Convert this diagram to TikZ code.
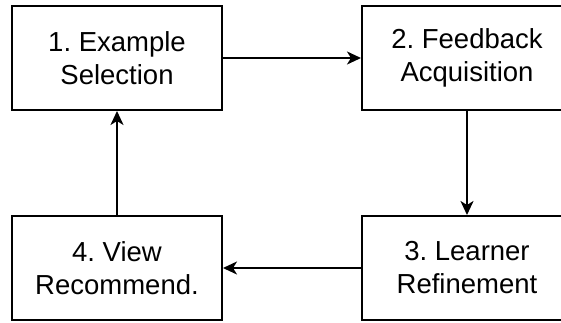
\documentclass[tikz,border=0pt]{standalone}
\usepackage{fontspec}
\setmainfont{Liberation Sans}
\usetikzlibrary{arrows.meta}
\frenchspacing
\begin{document}
\begin{tikzpicture}[x=1pt,y=1pt,
  stagebox/.style={draw=black, line width=2pt, minimum width=210pt, minimum height=104pt,
    align=center, font=\fontsize{27.5}{33}\selectfont, inner sep=0pt, fill=white},
  flow/.style={line width=2pt, -{Stealth[length=14pt,width=13pt,inset=4pt]}}]
\useasboundingbox (0,0) rectangle (561,-322);
\clip (0,0) rectangle (561,-322);
\fill[white] (0,0) rectangle (561,-322);
\node[stagebox] (s1) at (117,-58) {1. Example\\Selection};
\node[stagebox] (s2) at (467,-58) {2. Feedback\\Acquisition};
\node[stagebox] (s3) at (467,-268) {3. Learner\\Refinement};
\node[stagebox] (s4) at (117,-268) {4. View\\Recommend.};
\draw[flow] (s1) -- (s2);
\draw[flow] (s2) -- (s3);
\draw[flow] (s3) -- (s4);
\draw[flow] (s4) -- (s1);
\end{tikzpicture}
\end{document}
